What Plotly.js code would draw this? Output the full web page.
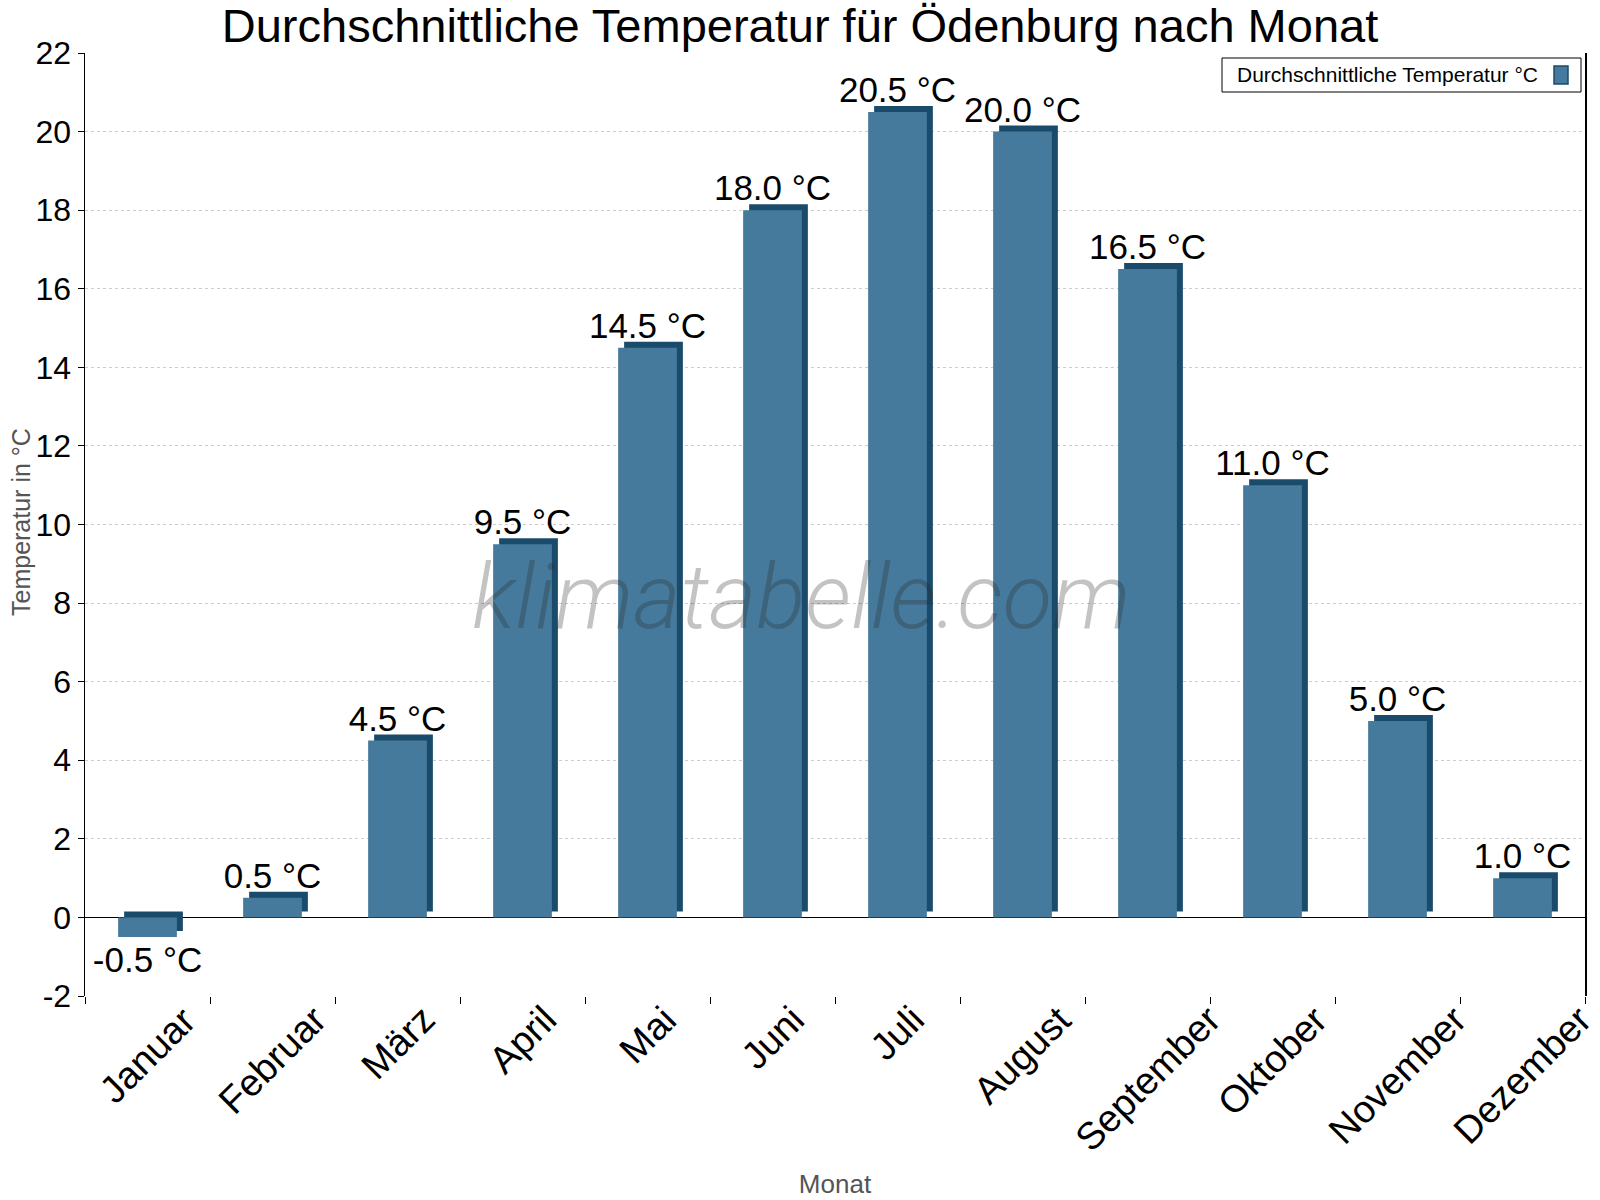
<!DOCTYPE html>
<html>
<head>
<meta charset="utf-8">
<script src="https://cdn.plot.ly/plotly-3.0.1.min.js"></script>
<style>
  html, body { margin: 0; padding: 0; background: #fff; }
  #chartDiv { width: 1600px; height: 1200px; }
</style>
</head>
<body>
<div id="chartDiv"></div>
<script>
// Monatswerte
var months = ['Januar', 'Februar', 'März', 'April', 'Mai', 'Juni', 'Juli',
              'August', 'September', 'Oktober', 'November', 'Dezember'];
var temps = [-0.5, 0.5, 4.5, 9.5, 14.5, 18.0, 20.5, 20.0, 16.5, 11.0, 5.0, 1.0];
var yTickVals = [-2, 0, 2, 4, 6, 8, 10, 12, 14, 16, 18, 20, 22];
var yTickText = ['-2', '0', '2', '4', '6', '8', '10', '12', '14', '16', '18', '20', '22'];
var seriesName = 'Durchschnittliche Temperatur °C';

var faceColor = '#467a9c';
var sideColor = '#1b4b6b';
var fontFam = '"Liberation Sans", Arial, sans-serif';

// plot area in pixels, used to turn pixel spots into paper coords
var L = 85, R = 15, T = 53, B = 204;
var W = 1600 - L - R, H = 1200 - T - B;
function px(x) { return (x - L) / W; }
function py(y) { return (1200 - B - y) / H; }

var barW = 0.47;
var depthX = 0.048;           // ~6px, in category units
var depthY = 6 / (H / 24);    // ~6px, in data units

// dark "3d" side, shifted right and up
var side = {
    x: months,
    y: temps.map(function (v) { return Math.abs(v); }),
    base: temps.map(function (v) { return Math.min(v, 0) + depthY; }),
    type: 'bar',
    width: barW,
    offset: -barW / 2 + depthX,
    marker: {color: sideColor, line: {width: 0}},
    hoverinfo: 'skip',
    showlegend: false
};

var face = {
    x: months,
    y: temps,
    type: 'bar',
    name: seriesName,
    width: barW,
    offset: -barW / 2,
    marker: {color: faceColor, line: {width: 0}},
    texttemplate: '%{y:.1f} °C',
    textposition: 'outside',
    constraintext: 'none',
    cliponaxis: false,
    textfont: {family: fontFam, size: 35, color: '#000'},
    showlegend: false
};

// month labels, rotated and centred under each category (matplotlib style)
var monthLabels = months.map(function (m) {
    return {
        text: m, x: m, xref: 'x', yref: 'paper', y: py(997),
        xanchor: 'center', yanchor: 'top', textangle: -45,
        showarrow: false, borderpad: 0,
        font: {family: fontFam, size: 38, color: '#000'}
    };
});

var layout = {
    width: 1600,
    height: 1200,
    margin: {l: L, r: R, t: T, b: B},
    paper_bgcolor: '#fff',
    plot_bgcolor: '#fff',
    barmode: 'overlay',
    font: {family: fontFam, color: '#000'},
    title: {
        text: 'Durchschnittliche Temperatur für Ödenburg nach Monat',
        font: {family: fontFam, size: 47, color: '#000'},
        x: 0.5, xanchor: 'center',
        y: 1 - 26 / 1200, yanchor: 'middle'
    },
    xaxis: {
        type: 'category',
        range: [-0.5, 11.5],
        tickson: 'boundaries',
        ticks: 'outside',
        ticklen: 7,
        tickcolor: '#000',
        showticklabels: false,
        showgrid: false,
        showline: false,
        zeroline: false,
        title: {text: 'Monat', font: {family: fontFam, size: 26, color: '#555'}, standoff: 178}
    },
    yaxis: {
        range: [-2, 22],
        tickvals: yTickVals,
        ticktext: yTickText,
        ticks: 'outside',
        ticklen: 6,
        tickcolor: '#000',
        showline: true,
        mirror: true,
        linecolor: '#000',
        linewidth: 1.5,
        gridcolor: '#cccccc',
        griddash: '3px,3px',
        zeroline: true,
        zerolinecolor: '#000',
        zerolinewidth: 1.5,
        tickfont: {family: fontFam, size: 32, color: '#000'}
    },
    shapes: [
        // legend box
        {type: 'rect', xref: 'paper', yref: 'paper',
         x0: px(1222), x1: px(1581), y0: py(92), y1: py(58),
         line: {color: '#000', width: 1}, fillcolor: '#fff'},
        // legend swatch
        {type: 'rect', xref: 'paper', yref: 'paper',
         x0: px(1554), x1: px(1568), y0: py(84), y1: py(66),
         line: {color: sideColor, width: 1.5}, fillcolor: faceColor}
    ],
    annotations: [
        // y axis title, placed by hand to sit close to the tick labels
        {text: 'Temperatur in °C', xref: 'paper', yref: 'paper',
         x: px(21), y: py(522), xanchor: 'center', yanchor: 'middle', textangle: -90,
         showarrow: false, font: {family: fontFam, size: 25, color: '#555'}},
        {text: seriesName, xref: 'paper', yref: 'paper',
         x: px(1235), y: py(75), xanchor: 'left', yanchor: 'middle',
         showarrow: false, font: {family: fontFam, size: 21, color: '#000'}},
        // watermark
        {text: 'klimatabelle.com', xref: 'paper', yref: 'paper',
         x: px(801), y: py(597), xanchor: 'center', yanchor: 'middle',
         showarrow: false,
         font: {family: 'Roboto, sans-serif', size: 91, weight: 300, style: 'italic',
                color: 'rgba(40,40,40,0.28)'}}
    ].concat(monthLabels)
};

Plotly.newPlot('chartDiv', [side, face], layout, {staticPlot: true});
</script>
</body>
</html>
